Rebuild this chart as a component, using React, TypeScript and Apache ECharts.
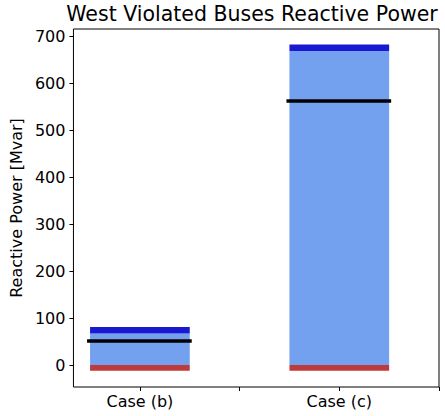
import React, { useEffect, useRef } from "react";
import * as echarts from "echarts";

const categories = ["Case (b)", "Case (c)"];
const categoryPositions = [0, 1];
const baseValues = [67, 668];
const capTopValues = [81, 682];
const lowerValues = [-12, -12];
const meanValues = [51, 562];
const yTickValues = [0, 100, 200, 300, 400, 500, 600, 700];
const xTickValues = [0, 0.5, 1, 1.5];

const FONT = "DejaVu Sans";
const HALF_BAR = 0.25;

export default function App() {
  const ref = useRef<HTMLDivElement>(null);
  useEffect(() => {
    if (!ref.current) return;
    const chart = echarts.init(ref.current, null, { renderer: "svg" });
    const rectSeries = (data: number[][], color: string, z: number) => ({
      type: "custom",
      z,
      data,
      renderItem: (params: any, api: any) => {
        const x = api.value(0);
        const lo = api.value(1);
        const hi = api.value(2);
        const p1 = api.coord([x - HALF_BAR, hi]);
        const p2 = api.coord([x + HALF_BAR, lo]);
        return {
          type: "rect",
          shape: { x: p1[0], y: p1[1], width: p2[0] - p1[0], height: p2[1] - p1[1] },
          style: { fill: color },
        };
      },
    });
    const baseData = categoryPositions.map((x, i) => [x, 0, baseValues[i]]);
    const capData = categoryPositions.map((x, i) => [x, baseValues[i], capTopValues[i]]);
    const lowData = categoryPositions.map((x, i) => [x, lowerValues[i], 0]);
    chart.setOption({
      animation: false,
      backgroundColor: "#fff",
      title: {
        text: "West Violated Buses Reactive Power",
        left: 252,
        top: 3,
        padding: 0,
        textAlign: "center",
        textStyle: { fontFamily: FONT, fontSize: 20.5, fontWeight: "normal", color: "#000" },
      },
      grid: {
        left: 73,
        top: 29,
        width: 366,
        height: 358,
        show: true,
        borderColor: "#000",
        borderWidth: 1,
        backgroundColor: "transparent",
        z: 20,
      },
      xAxis: {
        type: "value",
        min: -1 / 3,
        max: 1.5,
        splitLine: { show: false },
        axisLine: { show: false, onZero: false },
        axisTick: { show: true, inside: false, length: 4, lineStyle: { color: "#000" }, customValues: xTickValues },
        axisLabel: {
          customValues: categoryPositions,
          formatter: (v: number) => {
            const i = categoryPositions.indexOf(Math.round(v));
            return i >= 0 ? categories[i] : "";
          },
          fontFamily: FONT,
          fontSize: 16,
          color: "#000",
          margin: 6,
        },
      },
      yAxis: {
        type: "value",
        min: -46.8,
        max: 715,
        name: "Reactive Power [Mvar]",
        nameLocation: "middle",
        nameGap: 47,
        nameTextStyle: { fontFamily: FONT, fontSize: 16, color: "#000" },
        splitLine: { show: false },
        axisLine: { show: false, onZero: false },
        axisTick: { show: true, inside: false, length: 4, lineStyle: { color: "#000" }, customValues: yTickValues },
        axisLabel: { customValues: yTickValues, fontFamily: FONT, fontSize: 16, color: "#000", margin: 8 },
      },
      series: [
        rectSeries(baseData, "#73a0ef", 2),
        rectSeries(capData, "#1919d2", 3),
        rectSeries(lowData, "#bf3a3a", 3),
        {
          type: "custom",
          data: categoryPositions.map((x, i) => [x, meanValues[i]]),
          z: 10,
          renderItem: (params: any, api: any) => {
            const x = api.value(0);
            const y = api.value(1);
            const p1 = api.coord([x - 0.265, y]);
            const p2 = api.coord([x + 0.26, y]);
            return {
              type: "line",
              shape: { x1: p1[0], y1: p1[1], x2: p2[0], y2: p2[1] },
              style: { stroke: "#000", lineWidth: 3.5 },
            };
          },
        },
      ],
    });
    return () => chart.dispose();
  }, []);
  return (
    <div
      ref={ref}
      style={{ position: "absolute", left: 0, top: 0, width: 445, height: 416 }}
    />
  );
}
